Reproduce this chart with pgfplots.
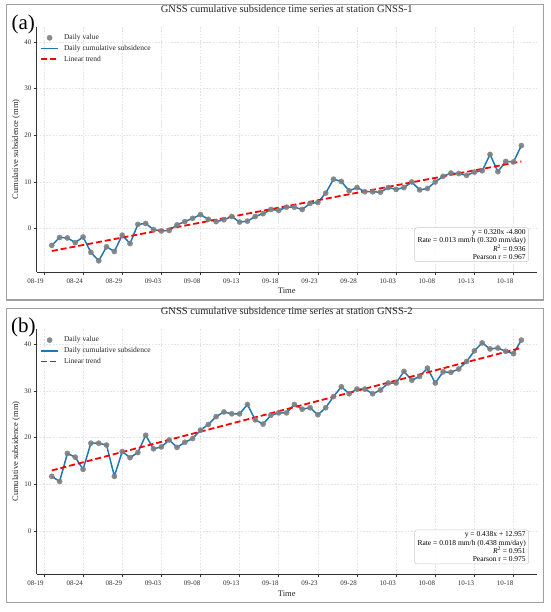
\documentclass[border=0pt]{standalone}
\usepackage{fontspec}
\setmainfont{Liberation Serif}
\usepackage{pgfplots}
\pgfplotsset{compat=1.18}
\usepackage{pgfplotstable}

\definecolor{mplblue}{HTML}{1F77B4}
\definecolor{ptgray}{HTML}{808080}
\definecolor{framegray}{HTML}{A0A0A0}
\definecolor{gridgray}{HTML}{E2E2E2}
\definecolor{spine}{HTML}{333333}
\definecolor{boxgray}{HTML}{CCCCCC}

\pgfplotstableread{
i a b
0 -3.6 11.7
1 -1.9 10.6
2 -2.0 16.6
3 -3.0 15.8
4 -1.8 13.2
5 -5.1 18.8
6 -6.9 18.8
7 -3.9 18.4
8 -4.9 11.7
9 -1.4 17.0
10 -3.2 15.7
11 0.9 16.8
12 1.1 20.5
13 -0.2 17.6
14 -0.5 18.0
15 -0.4 19.5
16 0.8 17.9
17 1.5 19.0
18 2.2 19.8
19 3.0 21.6
20 2.0 22.8
21 1.5 24.5
22 1.9 25.5
23 2.6 25.1
24 1.4 25.1
25 1.6 27.1
26 2.6 23.8
27 3.2 22.9
28 4.1 24.8
29 3.9 25.3
30 4.6 25.3
31 4.6 27.1
32 4.1 26.1
33 5.4 26.4
34 5.6 24.9
35 7.6 26.4
36 10.6 28.8
37 10.1 30.9
38 8.1 29.4
39 8.8 30.4
40 7.9 30.4
41 7.9 29.4
42 7.8 30.2
43 8.8 31.7
44 8.4 31.7
45 8.8 34.2
46 10.0 32.3
47 8.3 33.1
48 8.6 34.9
49 10.0 31.7
50 11.2 34.1
51 11.9 34.0
52 11.8 34.7
53 11.4 36.3
54 12.1 38.6
55 12.4 40.3
56 15.9 39.0
57 12.2 39.2
58 14.4 38.5
59 14.3 38.0
60 17.8 40.9
}\datatable

\tikzset{
  stbox/.style={draw=boxgray, line width=0.5pt, fill=white, fill opacity=0.85, text opacity=1,
    rounded corners=2.5pt, inner xsep=3pt, inner ysep=2pt, align=right,
    font=\fontsize{7.5}{8.3}\selectfont, anchor=south east}
}

\pgfplotsset{
  panel/.style={
    scale only axis, width=500.5pt, height=245.4pt,
    xmin=-1.95, xmax=62.0, ymin=-9.3, ymax=43.3,
    axis lines=left,
    axis line style={-, spine, line width=0.7pt},
    tick align=outside,
    tick style={spine, line width=0.6pt},
    major tick length=3pt,
    xtick={-1,4,9,14,19,24,29,34,39,44,49,54,59},
    xticklabels={08-19,08-24,08-29,09-03,09-08,09-13,09-18,09-23,09-28,10-03,10-08,10-13,10-18},
    ytick={0,10,20,30,40},
    grid=major,
    major grid style={gridgray, line width=0.5pt, dash pattern=on 1.6pt off 1.6pt},
    /pgf/number format/assume math mode=true,
    ticklabel style={font=\fontsize{7}{8}\selectfont, text=spine},
    xticklabel style={anchor=north east, inner xsep=0pt, xshift=0pt},
    yticklabel style={inner xsep=2pt},
    title style={font=\fontsize{10.5}{12}\selectfont, text=black!85, at={(axis description cs:0.5,1.047)}, anchor=center},
    xlabel={Time},
    xlabel style={font=\fontsize{8.5}{10}\selectfont, text=black!85, at={(axis description cs:0.5,-0.0774)}, anchor=center},
    ylabel={Cumulative subsidence (mm)},
    ylabel style={font=\fontsize{8.5}{10}\selectfont, text=black!85, at={(axis description cs:-0.041,0.5)}, anchor=center},
    legend cell align=left,
    legend style={at={(axis description cs:0.0,0.985)}, anchor=north west, draw=none, fill=none,
      font=\fontsize{7.5}{9}\selectfont, text=black!85, row sep=0pt, column sep=3pt, inner sep=2pt, xshift=1.5pt},
  },
}

\begin{document}
\begin{tikzpicture}
\path[use as bounding box] (0,0) rectangle (550pt,612pt);
\fill[white] (0,0) rectangle (550pt,612pt);
\draw[framegray, line width=1.3pt] (6.3pt,312pt) rectangle (543.5pt,607.3pt);
\draw[framegray, line width=1.3pt] (6.3pt,9.3pt) rectangle (543.5pt,303.7pt);

\begin{axis}[panel, at={(36.5pt,340pt)}, anchor=south west,
  title={GNSS cumulative subsidence time series at station GNSS-1}]
\addplot[only marks, mark=*, mark size=2.6pt, mark options={fill=ptgray, draw=ptgray, fill opacity=0.9, draw opacity=0.9}] table[x=i, y=a] {\datatable};
\addlegendentry{Daily value}
\addplot[mplblue, line width=1.5pt, no markers] table[x=i, y=a] {\datatable};
\addlegendentry{Daily cumulative subsidence}
\addplot[red, line width=1.8pt, dash pattern=on 6pt off 3pt, no markers] coordinates {(0,-4.8) (60,14.4)};
\addlegendentry{Linear trend}
\node[stbox] at (rel axis cs:0.984,0.041) {y = 0.320x -4.800\\Rate = 0.013 mm/h (0.320 mm/day)\\\textit{R}\textsuperscript{2} = 0.936\\Pearson r = 0.967};
\end{axis}

\begin{axis}[panel, at={(36.5pt,37.7pt)}, anchor=south west,
  title={GNSS cumulative subsidence time series at station GNSS-2}]
\addplot[only marks, mark=*, mark size=2.6pt, mark options={fill=ptgray, draw=ptgray, fill opacity=0.9, draw opacity=0.9}] table[x=i, y=b] {\datatable};
\addlegendentry{Daily value}
\addplot[mplblue, line width=1.5pt, no markers] table[x=i, y=b] {\datatable};
\addlegendentry{Daily cumulative subsidence}
\addplot[red, line width=1.8pt, dash pattern=on 6pt off 3pt, no markers] coordinates {(0,12.957) (60,39.237)};
\addlegendentry{Linear trend}
\node[stbox] at (rel axis cs:0.984,0.041) {y = 0.438x + 12.957\\Rate = 0.018 mm/h (0.438 mm/day)\\\textit{R}\textsuperscript{2} = 0.951\\Pearson r = 0.975};
\end{axis}

\node[font=\fontsize{21}{24}\selectfont, inner sep=0pt] at (23.3pt,588pt) {(a)};
\node[font=\fontsize{21}{24}\selectfont, inner sep=0pt] at (23.3pt,284.5pt) {(b)};
\end{tikzpicture}
\end{document}
